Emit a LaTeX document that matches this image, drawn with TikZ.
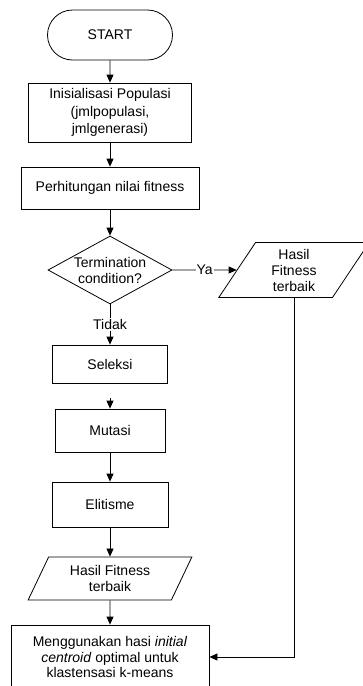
\documentclass[tikz,border=0pt]{standalone}
\usepackage{fontspec}
\setmainfont{Liberation Sans}
\usetikzlibrary{shapes.geometric, shapes.misc, arrows.meta}

\begin{document}
\begin{tikzpicture}[x=1pt, y=-1pt, line width=0.8pt,
		every node/.style={font=\fontsize{14}{16}\selectfont, align=center, inner sep=0pt},
		terminal/.style={draw, rounded rectangle, minimum width=125pt, minimum height=50pt},
		process/.style={draw, rectangle},
		decision/.style={draw, diamond, aspect=1.8, minimum width=124pt, minimum height=68pt, inner sep=-6pt},
		data/.style={draw, trapezium, trapezium left angle=63, trapezium right angle=117, trapezium stretches=true},
		arr/.style={-{Triangle[length=8pt,width=7pt]}}]
		\useasboundingbox (0,0) rectangle (363,686);
		\node[terminal] (start) at (110,35) {START};
		\node[process, minimum width=163pt, minimum height=59pt, font=\fontsize{14}{17.5}\selectfont] (init) at (110,112.5) {Inisialisasi Populasi\\(jmlpopulasi,\\jmlgenerasi)};
		\node[process, minimum width=178pt, minimum height=42pt] (hitung) at (110,188) {Perhitungan nilai fitness};
		\node[decision] (cek) at (110,270) {Termination\\condition?};
		\node[data, minimum width=151pt, minimum height=55pt] (hasilya) at (294,270) {Hasil\\Fitness\\terbaik};
		\node[process, minimum width=115pt, minimum height=38pt] (seleksi) at (110,364) {Seleksi};
		\node[process, minimum width=110pt, minimum height=43pt] (mutasi) at (110,430.5) {Mutasi};
		\node[process, minimum width=116pt, minimum height=45pt] (elitisme) at (110,504.5) {Elitisme};
		\node[data, minimum width=164pt, minimum height=43pt] (hasil) at (110,578.5) {Hasil Fitness\\terbaik};
		\node[process, minimum width=198pt, minimum height=64pt, font=\fontsize{14}{15.3}\selectfont] (guna) at (110,657) {Menggunakan hasi \textit{initial}\\\textit{centroid} optimal untuk\\klastensasi k-means};
		\draw[arr] (start) -- (init);
		\draw[arr] (init) -- (hitung);
		\draw[arr] (hitung) -- (cek);
		\draw[arr] (cek) -- node[fill=white, inner sep=1pt] {Ya} (hasilya);
		\draw[arr] (cek) -- node[fill=white, inner sep=1pt] {Tidak} (seleksi);
		\draw[arr, shorten <=15pt] (seleksi) -- (mutasi);
		\draw[arr] (mutasi) -- (elitisme);
		\draw[arr] (elitisme) -- (hasil);
		\draw[arr] (hasil) -- (guna);
		\draw[arr] (hasilya) |- (guna);
	\end{tikzpicture}
\end{document}
